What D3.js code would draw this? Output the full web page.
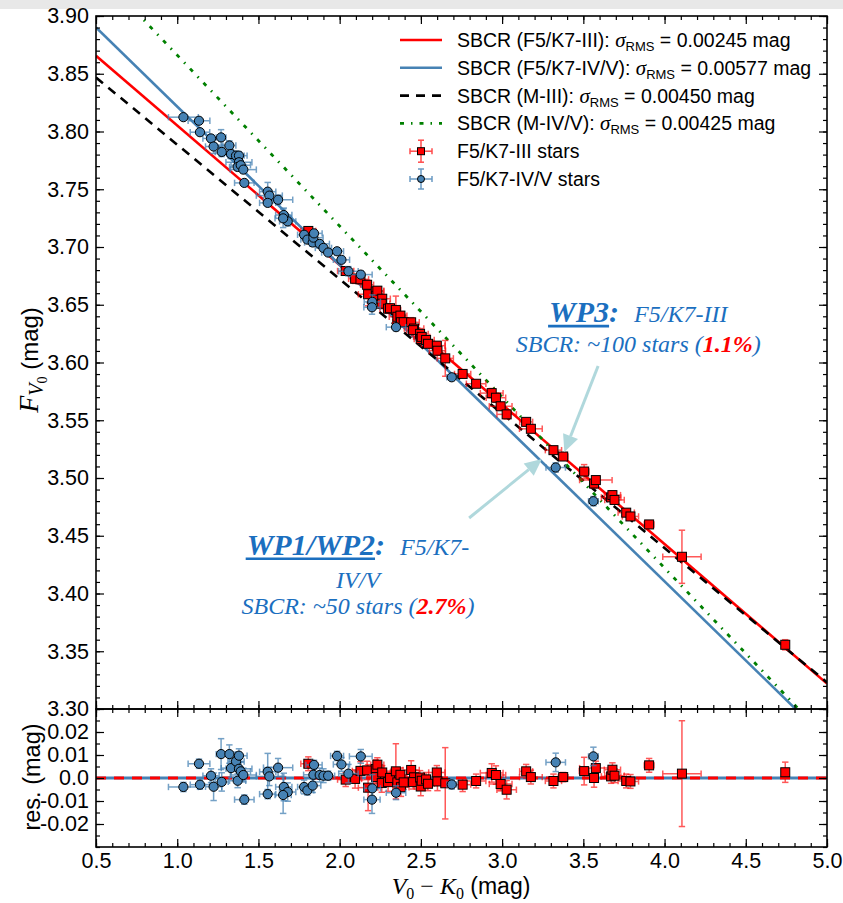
<!DOCTYPE html>
<html><head><meta charset="utf-8">
<script src="https://cdn.jsdelivr.net/npm/d3@7"></script>
<style>body{margin:0;background:#fff;} svg{display:block;}</style>
</head><body>
<svg id="chart" width="843" height="903"></svg>
<script>
// ---------------- DATA ----------------
// F5/K7-IV/V stars (blue circles)
const blueVK   = [1.038,1.134,1.140,1.208,1.224,1.270,1.274,1.321,1.331,1.362,1.380,1.380,1.372,1.391,1.407,1.413,1.557,1.567,1.557,1.621,1.656,1.680,1.652,1.781,1.801,1.834,1.838,1.842,1.877,1.900,1.929,1.984,2.011,2.054,2.130,2.201,2.199,2.347,2.690,3.330,3.562];
const blueF    = [3.8124,3.8093,3.7994,3.7940,3.7870,3.7949,3.7823,3.7879,3.7805,3.7791,3.7791,3.7734,3.7693,3.7708,3.7670,3.7555,3.7479,3.7445,3.7382,3.7409,3.7277,3.7222,3.7248,3.7106,3.7064,3.7039,3.7081,3.7118,3.7027,3.6992,3.6952,3.6963,3.6889,3.6790,3.6761,3.6525,3.6478,3.6306,3.5872,3.5091,3.4799];
const blueRes  = [-0.0039,0.0062,-0.0029,0.0010,-0.0038,0.0104,-0.0017,0.0104,0.0043,0.0072,0.0097,0.0040,-0.0012,0.0029,0.0013,-0.0094,0.0027,0.0007,-0.0070,0.0045,-0.0039,-0.0061,-0.0074,-0.0039,-0.0054,-0.0033,0.0014,0.0057,0.0013,0.0010,0.0010,0.0096,0.0059,0.0019,0.0094,-0.0045,-0.0094,-0.0064,-0.0028,0.0068,0.0094];
const blueXerr = [0.092,0.067,0.060,0.050,0.050,0.030,0.040,0.040,0.060,0.050,0.050,0.080,0.050,0.060,0.080,0.060,0.050,0.080,0.050,0.090,0.050,0.050,0.050,0.040,0.040,0.050,0.060,0.050,0.060,0.050,0.040,0.040,0.050,0.060,0.070,0.050,0.050,0.060,0.030,0.060,0.030];
const blueYerr = [0.002,0.002,0.002,0.003,0.006,0.0067,0.004,0.004,0.004,0.004,0.003,0.004,0.003,0.004,0.003,0.002,0.008,0.004,0.002,0.004,0.006,0.004,0.008,0.003,0.002,0.003,0.003,0.002,0.003,0.003,0.002,0.002,0.003,0.004,0.003,0.006,0.006,0.003,0.002,0.004,0.004];

// F5/K7-III stars (red squares)
const redVK   = [1.807,2.037,2.095,2.128,2.169,2.175,2.222,2.224,2.232,2.262,2.259,2.298,2.310,2.346,2.355,2.374,2.377,2.394,2.440,2.458,2.452,2.495,2.499,2.505,2.532,2.544,2.598,2.602,2.650,2.757,2.840,2.936,2.962,2.991,3.028,3.148,3.177,3.316,3.376,3.505,3.566,3.577,3.671,3.679,3.692,3.764,3.790,3.905,4.107,4.743];
const redF    = [3.7139,3.6792,3.6725,3.6720,3.6673,3.6591,3.6615,3.6577,3.6622,3.6552,3.6509,3.6466,3.6470,3.6455,3.6396,3.6406,3.6349,3.6349,3.6348,3.6294,3.6280,3.6248,3.6204,3.6222,3.6195,3.6162,3.6146,3.6102,3.6036,3.5901,3.5816,3.5735,3.5695,3.5621,3.5551,3.5486,3.5426,3.5241,3.5186,3.5056,3.4952,3.4982,3.4832,3.4852,3.4810,3.4700,3.4667,3.4598,3.4318,3.3556];
const redRes  = [0.0062,-0.0007,-0.0004,0.0031,0.0033,-0.0042,0.0039,0.0004,0.0058,0.0024,-0.0022,-0.0018,0.0000,0.0029,-0.0019,0.0014,-0.0040,-0.0019,0.0035,0.0003,-0.0018,0.0002,-0.0037,-0.0012,-0.0006,-0.0025,0.0024,-0.0015,-0.0023,-0.0029,-0.0013,0.0022,0.0013,-0.0026,-0.0051,0.0029,0.0004,-0.0013,0.0004,0.0030,0.0000,0.0043,0.0007,0.0036,0.0010,-0.0013,-0.0015,0.0055,0.0019,0.0025];
const redXerr = [0.046,0.050,0.040,0.050,0.040,0.060,0.050,0.040,0.040,0.050,0.050,0.050,0.040,0.030,0.050,0.040,0.050,0.040,0.050,0.060,0.040,0.050,0.040,0.050,0.050,0.040,0.050,0.050,0.050,0.050,0.060,0.070,0.060,0.070,0.060,0.040,0.070,0.050,0.030,0.030,0.020,0.100,0.060,0.050,0.060,0.050,0.050,0.030,0.118,0.010];
const redYerr = [0.003,0.003,0.004,0.004,0.004,0.010,0.004,0.003,0.003,0.003,0.004,0.004,0.003,0.012,0.003,0.003,0.004,0.003,0.004,0.003,0.003,0.003,0.004,0.003,0.003,0.003,0.003,0.004,0.0155,0.003,0.003,0.004,0.004,0.003,0.004,0.003,0.003,0.003,0.002,0.006,0.004,0.003,0.003,0.003,0.003,0.003,0.003,0.003,0.023,0.0044];

// SBCR fits: F_V0 = a + b (V0-K0)
const fitNames      = ["SBCR (F5/K7-III): ","SBCR (F5/K7-IV/V): ","SBCR (M-III): ","SBCR (M-IV/V): "];
const fitIntercepts = [3.926, 3.9585, 3.905, 4.0141];
const fitSlopes     = [-0.1208, -0.137, -0.1164, -0.148];
const fitSigma      = ["0.00245","0.00577","0.00450","0.00425"];
const starLabels    = ["F5/K7-III stars","F5/K7-IV/V stars"];

// axis ticks
const xTicks      = [0.5,1.0,1.5,2.0,2.5,3.0,3.5,4.0,4.5,5.0];
const yMainTicks  = [3.30,3.35,3.40,3.45,3.50,3.55,3.60,3.65,3.70,3.75,3.80,3.85,3.90];
const yResTicks   = [-0.02,-0.01,0.0,0.01,0.02];
const yResLabels  = ["-0.02","-0.01","0.0","0.01","0.02"];

// ---------------- STYLE ----------------
const W=843,H=903;
const X0=96,X1=827,YT=16,YM=709,YB=847;
const lineStyles=[
  {stroke:"#ff0000",w:2.6,dash:null},
  {stroke:"#4682b4",w:2.6,dash:null},
  {stroke:"#000000",w:2.6,dash:"9,7"},
  {stroke:"#008000",w:2.8,dash:"4,7,1.5,7"}
];
const RED="#ff0000", BLUE="#4682b4";
const SANS="'Liberation Sans', Arial, sans-serif";
const SERIF="'Liberation Serif', 'Times New Roman', serif";
const TXTBLUE="#1b6fbf";
const TICKFS=21.5, LEGFS=19.5;

const svg=d3.select("#chart");
svg.append("rect").attr("width",W).attr("height",H).attr("fill","#fff");
svg.append("rect").attr("width",W).attr("height",9).attr("fill","#e8e8e8");

const x=d3.scaleLinear().domain([0.5,5.0]).range([X0,X1]);
const yM=d3.scaleLinear().domain([3.30,3.90]).range([YM,YT]);
const yR=d3.scaleLinear().domain([-0.03,0.03]).range([YB,YM]);

const defs=svg.append("defs");
defs.append("clipPath").attr("id","cMain").append("rect").attr("x",X0).attr("y",YT).attr("width",X1-X0).attr("height",YM-YT);
defs.append("clipPath").attr("id","cRes").append("rect").attr("x",X0).attr("y",YM).attr("width",X1-X0).attr("height",YB-YM);

// ---------- fit lines (main) ----------
const gL=svg.append("g").attr("clip-path","url(#cMain)");
fitIntercepts.forEach((a,i)=>{
  const b=fitSlopes[i], s=lineStyles[i];
  const ln=gL.append("line")
    .attr("x1",x(0.5)).attr("y1",yM(a+b*0.5))
    .attr("x2",x(5.0)).attr("y2",yM(a+b*5.0))
    .attr("stroke",s.stroke).attr("stroke-width",s.w);
  if(s.dash) ln.attr("stroke-dasharray",s.dash);
});

// ---------- points with error bars ----------
function drawSeries(g,xs,ys,xe,ye,yScale,color,errOp,shape){
  const cap=3.2;
  xs.forEach((vx,i)=>{
    const px=x(vx), py=yScale(ys[i]);
    const xl=x(vx-xe[i]), xr=x(vx+xe[i]);
    const yt=yScale(ys[i]+ye[i]), yb=yScale(ys[i]-ye[i]);
    const eg=g.append("g").attr("stroke",color).attr("stroke-width",1.5).attr("opacity",errOp);
    eg.append("line").attr("x1",xl).attr("x2",xr).attr("y1",py).attr("y2",py);
    eg.append("line").attr("x1",xl).attr("x2",xl).attr("y1",py-cap).attr("y2",py+cap);
    eg.append("line").attr("x1",xr).attr("x2",xr).attr("y1",py-cap).attr("y2",py+cap);
    eg.append("line").attr("x1",px).attr("x2",px).attr("y1",yt).attr("y2",yb);
    eg.append("line").attr("x1",px-cap).attr("x2",px+cap).attr("y1",yt).attr("y2",yt);
    eg.append("line").attr("x1",px-cap).attr("x2",px+cap).attr("y1",yb).attr("y2",yb);
  });
  xs.forEach((vx,i)=>{
    const px=x(vx), py=yScale(ys[i]);
    if(shape==="square"){
      g.append("rect").attr("x",px-4.5).attr("y",py-4.5).attr("width",9).attr("height",9)
        .attr("fill",color).attr("stroke","#000").attr("stroke-width",1);
    } else {
      g.append("circle").attr("cx",px).attr("cy",py).attr("r",4.6)
        .attr("fill",color).attr("stroke","#000").attr("stroke-width",1);
    }
  });
}
const gP=svg.append("g").attr("clip-path","url(#cMain)");
drawSeries(gP,redVK,redF,redXerr,redYerr,yM,RED,0.65,"square");
drawSeries(gP,blueVK,blueF,blueXerr,blueYerr,yM,BLUE,0.75,"circle");

// ---------- residual panel ----------
const gR=svg.append("g").attr("clip-path","url(#cRes)");
gR.append("line").attr("x1",X0).attr("x2",X1).attr("y1",yR(0)).attr("y2",yR(0))
  .attr("stroke",BLUE).attr("stroke-width",3);
gR.append("line").attr("x1",X0).attr("x2",X1).attr("y1",yR(0)).attr("y2",yR(0))
  .attr("stroke",RED).attr("stroke-width",3).attr("stroke-dasharray","10,8");
drawSeries(gR,redVK,redRes,redXerr,redYerr,yR,RED,0.65,"square");
drawSeries(gR,blueVK,blueRes,blueXerr,blueYerr,yR,BLUE,0.75,"circle");

// ---------- axes ----------
function styleAxis(g){
  g.select(".domain").remove();
  g.selectAll(".tick line").attr("stroke","#000").attr("stroke-width",1.2);
  g.selectAll(".tick text").attr("font-family",SANS).attr("font-size",TICKFS).attr("fill","#000");
}
const xMinor=d3.range(5,51).map(v=>v/10);
const yMinor=d3.range(330,391).map(v=>v/100);
const rMinor=d3.range(-6,7).map(v=>v*0.005);

// main panel
svg.append("g").attr("transform",`translate(0,${YM})`).call(d3.axisBottom(x).tickValues(xTicks).tickSize(-8).tickFormat("")).call(styleAxis);
svg.append("g").attr("transform",`translate(0,${YM})`).call(d3.axisBottom(x).tickValues(xMinor).tickSize(-4).tickFormat("")).call(styleAxis);
svg.append("g").attr("transform",`translate(0,${YT})`).call(d3.axisTop(x).tickValues(xTicks).tickSize(-8).tickFormat("")).call(styleAxis);
svg.append("g").attr("transform",`translate(0,${YT})`).call(d3.axisTop(x).tickValues(xMinor).tickSize(-4).tickFormat("")).call(styleAxis);
svg.append("g").attr("transform",`translate(${X0},0)`).call(d3.axisLeft(yM).tickValues(yMainTicks).tickSize(-8).tickPadding(7).tickFormat(d3.format(".2f"))).call(styleAxis);
svg.append("g").attr("transform",`translate(${X0},0)`).call(d3.axisLeft(yM).tickValues(yMinor).tickSize(-4).tickFormat("")).call(styleAxis);
svg.append("g").attr("transform",`translate(${X1},0)`).call(d3.axisRight(yM).tickValues(yMainTicks).tickSize(-8).tickFormat("")).call(styleAxis);
svg.append("g").attr("transform",`translate(${X1},0)`).call(d3.axisRight(yM).tickValues(yMinor).tickSize(-4).tickFormat("")).call(styleAxis);
// residual panel
svg.append("g").attr("transform",`translate(0,${YB})`).call(d3.axisBottom(x).tickValues(xTicks).tickSize(-8).tickPadding(6).tickFormat(d3.format(".1f"))).call(styleAxis);
svg.append("g").attr("transform",`translate(0,${YB})`).call(d3.axisBottom(x).tickValues(xMinor).tickSize(-4).tickFormat("")).call(styleAxis);
svg.append("g").attr("transform",`translate(0,${YM})`).call(d3.axisTop(x).tickValues(xTicks).tickSize(-8).tickFormat("")).call(styleAxis);
svg.append("g").attr("transform",`translate(0,${YM})`).call(d3.axisTop(x).tickValues(xMinor).tickSize(-4).tickFormat("")).call(styleAxis);
svg.append("g").attr("transform",`translate(${X0},0)`).call(d3.axisLeft(yR).tickValues(yResTicks).tickSize(-8).tickPadding(7).tickFormat((d,i)=>yResLabels[i])).call(styleAxis);
svg.append("g").attr("transform",`translate(${X0},0)`).call(d3.axisLeft(yR).tickValues(rMinor).tickSize(-4).tickFormat("")).call(styleAxis);
svg.append("g").attr("transform",`translate(${X1},0)`).call(d3.axisRight(yR).tickValues(yResTicks).tickSize(-8).tickFormat("")).call(styleAxis);
svg.append("g").attr("transform",`translate(${X1},0)`).call(d3.axisRight(yR).tickValues(rMinor).tickSize(-4).tickFormat("")).call(styleAxis);

// frames
svg.append("rect").attr("x",X0).attr("y",YT).attr("width",X1-X0).attr("height",YM-YT).attr("fill","none").attr("stroke","#000").attr("stroke-width",1.6);
svg.append("rect").attr("x",X0).attr("y",YM).attr("width",X1-X0).attr("height",YB-YM).attr("fill","none").attr("stroke","#000").attr("stroke-width",1.6);

// ---------- axis labels ----------
const yl=svg.append("text").attr("transform","translate(38,360) rotate(-90)").attr("text-anchor","middle").attr("fill","#000");
yl.append("tspan").attr("font-family",SERIF).attr("font-style","italic").attr("font-size",28).text("F");
yl.append("tspan").attr("font-family",SERIF).attr("font-style","italic").attr("font-size",20).attr("dy",5).text("V");
yl.append("tspan").attr("font-family",SERIF).attr("font-size",14).attr("dy",4).text("0");
yl.append("tspan").attr("font-family",SANS).attr("font-size",24).attr("dy",-9).text(" (mag)");

svg.append("text").attr("transform","translate(40,777) rotate(-90)").attr("text-anchor","middle")
  .attr("font-family",SANS).attr("font-size",23.5).text("res. (mag)");

const xl=svg.append("text").attr("x",461).attr("y",894).attr("text-anchor","middle").attr("fill","#000");
xl.append("tspan").attr("font-family",SERIF).attr("font-style","italic").attr("font-size",24).text("V");
xl.append("tspan").attr("font-family",SERIF).attr("font-size",16).attr("dy",5).text("0");
xl.append("tspan").attr("font-family",SERIF).attr("font-size",24).attr("dy",-5).attr("dx",6).text("−");
xl.append("tspan").attr("font-family",SERIF).attr("font-style","italic").attr("font-size",24).attr("dx",6).text("K");
xl.append("tspan").attr("font-family",SERIF).attr("font-size",16).attr("dy",5).text("0");
xl.append("tspan").attr("font-family",SANS).attr("font-size",23).attr("dy",-5).text(" (mag)");

// ---------- legend ----------
const LX0=400, LX1=442, LTX=457, LY0=40, LDY=27.8;
fitNames.forEach((n,i)=>{
  const yy=LY0+i*LDY, s=lineStyles[i];
  const l=svg.append("line").attr("x1",LX0).attr("x2",LX1).attr("y1",yy).attr("y2",yy)
    .attr("stroke",s.stroke).attr("stroke-width",s.w);
  if(s.dash) l.attr("stroke-dasharray",s.dash);
  const t=svg.append("text").attr("x",LTX).attr("y",yy+7).attr("fill","#000");
  t.append("tspan").attr("font-family",SANS).attr("font-size",LEGFS).text(n);
  t.append("tspan").attr("font-family",SERIF).attr("font-style","italic").attr("font-size",21).text("σ");
  t.append("tspan").attr("font-family",SANS).attr("font-size",13).attr("dy",4).text("RMS");
  t.append("tspan").attr("font-family",SANS).attr("font-size",LEGFS).attr("dy",-4).text(" = "+fitSigma[i]+" mag");
});
starLabels.forEach((n,i)=>{
  const yy=LY0+(4+i)*LDY, cx=(LX0+LX1)/2;
  const col=i===0?RED:BLUE, op=i===0?0.7:0.8;
  const eg=svg.append("g").attr("stroke",col).attr("stroke-width",1.5).attr("opacity",op);
  const hx=11, hy=i===0?11:10, cap=3;
  eg.append("line").attr("x1",cx-hx).attr("x2",cx+hx).attr("y1",yy).attr("y2",yy);
  eg.append("line").attr("x1",cx-hx).attr("x2",cx-hx).attr("y1",yy-cap).attr("y2",yy+cap);
  eg.append("line").attr("x1",cx+hx).attr("x2",cx+hx).attr("y1",yy-cap).attr("y2",yy+cap);
  eg.append("line").attr("x1",cx).attr("x2",cx).attr("y1",yy-hy).attr("y2",yy+hy);
  eg.append("line").attr("x1",cx-cap).attr("x2",cx+cap).attr("y1",yy-hy).attr("y2",yy-hy);
  eg.append("line").attr("x1",cx-cap).attr("x2",cx+cap).attr("y1",yy+hy).attr("y2",yy+hy);
  if(i===0) svg.append("rect").attr("x",cx-3.5).attr("y",yy-3.5).attr("width",7).attr("height",7).attr("fill",RED).attr("stroke","#000").attr("stroke-width",1);
  else svg.append("circle").attr("cx",cx).attr("cy",yy).attr("r",3.5).attr("fill",BLUE).attr("stroke","#000").attr("stroke-width",1);
  svg.append("text").attr("x",LTX).attr("y",yy+7).attr("font-family",SANS).attr("font-size",LEGFS).text(n);
});

// ---------- annotations (data coordinates) ----------
function arrow(x0,y0,x1,y1){
  const ax=x(x0), ay=yM(y0), bx=x(x1), by=yM(y1);
  const dx=bx-ax, dy=by-ay, L=Math.hypot(dx,dy), ux=dx/L, uy=dy/L;
  const hl=17, hw=8;
  const sx=bx-ux*hl, sy=by-uy*hl;
  svg.append("line").attr("x1",ax).attr("y1",ay).attr("x2",sx).attr("y2",sy)
    .attr("stroke","#b0d8dc").attr("stroke-width",3);
  svg.append("path").attr("d",`M${bx},${by}L${sx-uy*hw},${sy+ux*hw}L${sx+uy*hw},${sy-ux*hw}Z`)
    .attr("fill","#b0d8dc");
}
arrow(3.591,3.597,3.383,3.5225);
arrow(2.797,3.4654,3.245,3.5165);

function block(cx,lines){
  lines.forEach(L=>{
    const t=svg.append("text").attr("x",x(cx)).attr("y",yM(L.y)).attr("text-anchor","middle").attr("fill",TXTBLUE).attr("font-family",SERIF).attr("font-style","italic");
    const uls=[];
    L.parts.forEach(p=>{
      const ts=t.append("tspan").attr("font-size",p.size).text(p.t);
      if(p.bold) ts.attr("font-weight","bold");
      if(p.dx) ts.attr("dx",p.dx);
      if(p.c) ts.attr("fill",p.c);
      if(p.u) uls.push(ts);
    });
    uls.forEach(ts=>{
      const nd=ts.node(), n=nd.getNumberOfChars();
      const a=nd.getStartPositionOfChar(0), b=nd.getEndPositionOfChar(n-1);
      svg.append("line").attr("x1",a.x-1).attr("x2",b.x).attr("y1",a.y+4).attr("y2",a.y+4)
        .attr("stroke",TXTBLUE).attr("stroke-width",2.6);
    });
  });
}
block(3.838,[
  {y:3.635,parts:[{t:"WP3",size:30,bold:true,u:true},{t:":",size:30,bold:true},{t:"F5/K7-III",size:24,dx:15}]},
  {y:3.609,parts:[{t:"SBCR: ~100 stars (",size:24},{t:"1.1%",size:24,bold:true,c:RED},{t:")",size:24}]}
]);
block(2.113,[
  {y:3.4335,parts:[{t:"WP1/WP2",size:30,bold:true,u:true},{t:":",size:30,bold:true},{t:"F5/K7-",size:24,dx:15}]},
  {y:3.4048,parts:[{t:"IV/V",size:24}]},
  {y:3.3823,parts:[{t:"SBCR: ~50 stars (",size:24},{t:"2.7%",size:24,bold:true,c:RED},{t:")",size:24}]}
]);
</script>
</body></html>
